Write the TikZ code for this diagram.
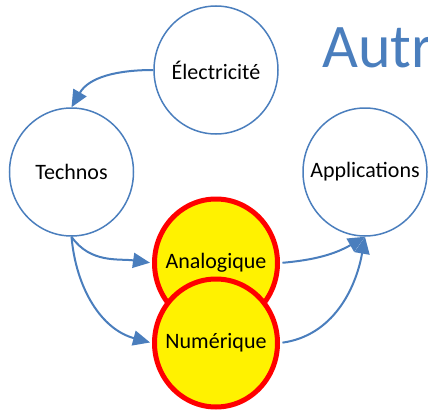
\documentclass[tikz,border=0pt]{standalone}
\usepackage{fontspec}
\setmainfont{Carlito}
\usetikzlibrary{arrows.meta}
\usetikzlibrary{positioning}
\usetikzlibrary{shapes.geometric}
\definecolor{officeblue}{RGB}{74,126,189}
\begin{document}
\begin{tikzpicture}[x=1pt,y=1pt]
        \tikzset{
          ->,
          >={Triangle[length=17pt,width=15pt]},
          on grid,
          every node/.style={font=\fontsize{22}{26}\selectfont},
          bubble/.style={
            ellipse, draw=officeblue, line width=1.5pt, fill=white,
            inner xsep=-25pt, inner ysep=0pt,
            minimum width=124pt, minimum height=128pt,
          },
          hotbubble/.style={
            ellipse, draw=red, line width=5pt, fill=yellow,
            inner xsep=-25pt, inner ysep=0pt,
            minimum width=123pt, minimum height=128pt,
          },
          link/.style={color=officeblue, line width=2pt},
        }
        \useasboundingbox (0,0) rectangle (428,-412);
        \node[bubble] (technos) at (71.5,-172) {Technos};
        \node[bubble, above right=102pt and 144.5pt of technos] (elec) {Électricité};
        \node[bubble, right=293.5pt of technos] (apps) {Applications};
        \node[hotbubble, below right=91pt and 144.5pt of technos] (analog) {Analogique};
        \node[hotbubble, below=80pt of analog] (numer) {Numérique};
        \node[anchor=base west, inner sep=0pt, text=officeblue,
          font=\fontsize{62}{70}\selectfont] (title) at (322,-67) {Autr};
        \path[link]
          (elec.west) edge[out=180, in=60] (technos.north)
          (technos.south) edge[out=-55, in=172, shorten >=2pt] (analog.west)
          (technos.south) edge[out=-85, in=165, shorten >=2pt] (numer.west)
          (analog.east) edge[out=5, in=-150, shorten <=2.5pt] (apps.south)
          (numer.east) edge[out=8, in=-100, shorten <=2.5pt] (apps.south);
      \end{tikzpicture}
\end{document}
